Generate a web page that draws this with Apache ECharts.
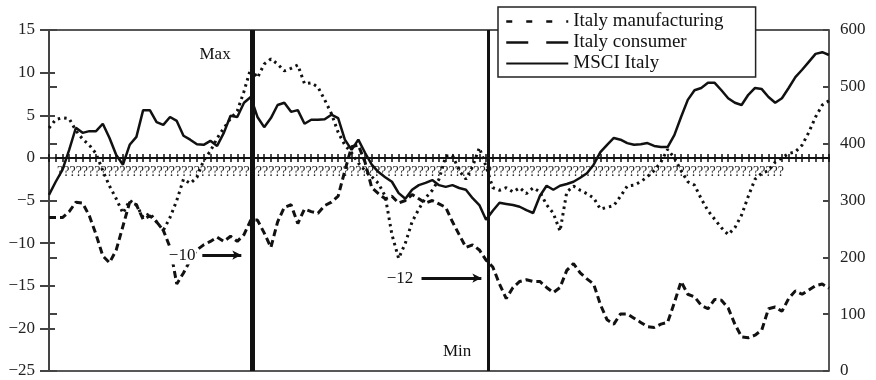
<!DOCTYPE html>
<html>
<head>
<meta charset="utf-8">
<script src="https://cdn.jsdelivr.net/npm/echarts@6/dist/echarts.min.js"></script>
<style>
html,body{margin:0;padding:0;background:#fff;}
#chart{width:876px;height:380px;}
</style>
</head>
<body>
<div id="chart"></div>
<script>
// Italy manufacturing confidence (left axis)
const manufacturing = [
  3.5,4.5,4.7,4.6,3.2,2.2,1.5,0.5,-1.5,-3.3,
  -4.8,-6.5,-5,-5.5,-7,-6.5,-7.5,-8.5,-7,-5,
  -2.5,-3,-2.3,-0.3,0.8,2.3,3.5,4.6,5.5,7.8,
  10.5,9.4,11,11.6,11,10.2,10.5,10.9,8.7,8.8,
  8.3,6.8,5.2,3,1.5,0.6,-0.6,-1.5,-2.2,-3,
  -4.5,-9,-11.8,-10,-7.5,-6,-4.7,-3.8,-2.5,0.2,
  0.3,-1.5,-2.5,-1,1.2,-1,-3.5,-3.8,-3.5,-4,
  -3.5,-4.2,-3.5,-4,-5.5,-6.5,-8.6,-4,-3.3,-3.8,
  -4.2,-4.7,-6,-5.8,-5.6,-4.5,-3.3,-3.2,-2.8,-2.2,
  -1.5,-0.5,1,0,-1.5,-2.8,-3.2,-4.8,-6.2,-7.2,
  -8.2,-9,-8.2,-6.7,-4.5,-2.5,-1.8,-1.5,-0.5,0,
  0.5,0.7,1.5,3,4.8,6.2,6.7
];
// Italy consumer confidence (left axis)
const consumer = [
  -7,-7,-7,-6.3,-5.2,-5.3,-6.8,-9,-11.5,-12.3,
  -10.8,-8,-5.2,-5.5,-7.2,-6.8,-7.5,-8.5,-10.5,-14.8,
  -13.5,-12,-10.8,-10.2,-9.8,-9.3,-9.8,-9.2,-9.8,-9,
  -7.3,-7.3,-8.8,-10.5,-7.5,-5.8,-5.5,-7.7,-6,-6.3,
  -6.5,-5.6,-5.2,-4.5,-1.5,1.3,1.5,-0.5,-3.5,-4.2,
  -4.8,-4.5,-5.3,-5,-4.3,-4.8,-5.3,-5,-5.4,-5.8,
  -7.5,-9,-10.5,-10.2,-10.8,-12,-12.8,-14.8,-16.5,-15.2,
  -14.5,-14.3,-14.5,-14.5,-15.2,-15.8,-15.2,-13.2,-12.4,-13.5,
  -14.2,-14.8,-17.2,-19,-19.5,-18.3,-18.3,-18.8,-19.3,-19.8,
  -19.9,-19.5,-19.3,-17,-14.5,-16,-16.3,-17.3,-17.7,-16.6,
  -16.7,-17.6,-19.5,-21,-21.1,-20.8,-20.2,-17.7,-17.5,-18,
  -16.5,-15.6,-16,-15.5,-15,-14.8,-15.3
];
// MSCI Italy index (right axis)
const msci = [
  310,333,354,389,428,419,422,422,435,410,
  380,363,398,412,459,459,438,433,447,440,
  414,407,399,398,405,396,419,449,447,472,
  482,447,429,445,468,472,456,459,435,442,
  442,443,451,445,407,389,407,384,363,350,
  341,333,313,303,319,327,331,336,327,324,
  327,322,319,304,292,266,282,296,294,292,
  289,283,278,308,326,319,326,329,333,340,
  348,363,385,398,410,407,401,398,399,401,
  396,394,394,415,447,477,494,498,507,507,
  494,480,472,468,486,498,496,482,472,480,
  498,517,530,544,558,561,556
];
const seriesNames = ['Italy manufacturing', 'Italy consumer', 'MSCI Italy'];
// garbled date labels as they appear in the source
const dateLabels = ['?????????????????????????????????????????????????????????????????????????????????????????????????????????????????????'];
const leftTicks = {min: -25, max: 15, interval: 5};
const rightTicks = {min: 0, max: 600, interval: 100};
// vertical reference lines (x index) and annotations (data coords)
const extremeLines = [{name: 'Max', x: 30.2, width: 5}, {name: 'Min', x: 65.3, width: 3}];
const annotationTexts = [
  {text: 'Max', coord: [24.7, 12.1], bg: false},
  {text: 'Min', coord: [60.7, -22.7], bg: false},
  {text: '\u221210', coord: [19.8, -11.5], bg: true},
  {text: '\u221212', coord: [52.2, -14.1], bg: true}
];
const arrows = [
  [[22.8, -11.4], [28.6, -11.4]],
  [[55.4, -14.1], [64.3, -14.1]]
];

const FONT = "'Liberation Serif', 'DejaVu Serif', serif";
const INK = '#111';
const pairs = arr => arr.map((v, i) => [i, v]);
const n = msci.length - 1;
const minusFmt = v => String(v).replace('-', '\u2212');
const hiddenSymbol = {opacity: 0, color: 'rgba(0,0,0,0)', borderWidth: 0};

const chart = echarts.init(document.getElementById('chart'), null, {renderer: 'canvas'});
chart.setOption({
  animation: false,
  backgroundColor: '#fff',
  grid: {left: 49, right: 47, top: 30, bottom: 9, show: true, borderColor: '#222', borderWidth: 1.5, backgroundColor: 'transparent'},
  legend: {
    orient: 'vertical', left: 498, top: 7,
    padding: [5, 32, 4, 7],
    backgroundColor: '#fff', borderColor: '#222', borderWidth: 1.5, borderRadius: 0,
    itemWidth: 62, itemHeight: 14, itemGap: 2,
    textStyle: {fontFamily: FONT, fontSize: 19, color: '#111'},
    data: [
      {name: seriesNames[0], itemStyle: hiddenSymbol, lineStyle: {type: [6, 14], width: 2.5, color: INK}},
      {name: seriesNames[1], itemStyle: hiddenSymbol, lineStyle: {type: [22, 18], width: 2.5, color: INK}},
      {name: seriesNames[2], itemStyle: hiddenSymbol, lineStyle: {type: 'solid', width: 2, color: INK}}
    ]
  },
  graphic: [{
    type: 'text', left: 57, top: 165, z: 1,
    style: {text: dateLabels.join(''), fontFamily: FONT, fontSize: 14, fill: '#222'}
  }],
  xAxis: [
    {type: 'value', min: 0, max: n, interval: 1,
     axisLine: {show: true, onZero: true, onZeroAxisIndex: 0, lineStyle: {color: INK, width: 2}},
     axisTick: {show: true, length: 4, lineStyle: {color: INK, width: 1.5}},
     axisLabel: {show: false}, splitLine: {show: false}},
    {type: 'value', min: 0, max: n, interval: 1, position: 'bottom',
     axisLine: {show: true, onZero: true, onZeroAxisIndex: 0, lineStyle: {color: INK, width: 2}},
     axisTick: {show: true, inside: true, length: 4, lineStyle: {color: INK, width: 1.5}},
     axisLabel: {show: false}, splitLine: {show: false}}
  ],
  yAxis: [
    {type: 'value', position: 'left', ...leftTicks,
     axisLine: {show: true, lineStyle: {color: '#444', width: 2}},
     axisTick: {show: true, length: 9, lineStyle: {color: '#444', width: 2}},
     axisLabel: {margin: 14, fontSize: 17, color: '#222', fontFamily: FONT, formatter: minusFmt},
     splitLine: {show: false}},
    {type: 'value', position: 'right', ...rightTicks,
     axisLine: {show: true, lineStyle: {color: '#444', width: 2}},
     axisTick: {show: true, length: 8, lineStyle: {color: '#444', width: 2}},
     axisLabel: {margin: 11, fontSize: 17, color: '#222', fontFamily: FONT},
     splitLine: {show: false}},
    {type: 'value', position: 'left', ...leftTicks,
     axisLine: {show: false},
     axisTick: {show: true, inside: true, length: 6, lineStyle: {color: '#444', width: 2}},
     axisLabel: {show: false}, splitLine: {show: false}},
    {type: 'value', position: 'right', ...rightTicks,
     axisLine: {show: false},
     axisTick: {show: true, inside: true, length: 6, lineStyle: {color: '#444', width: 2}},
     axisLabel: {show: false}, splitLine: {show: false}}
  ],
  series: [
    {name: seriesNames[0], type: 'line', yAxisIndex: 0, data: pairs(manufacturing), symbol: 'none',
     lineStyle: {color: INK, width: 3, type: [2.5, 4], cap: 'butt'}, itemStyle: {color: INK}, z: 3,
     markLine: {
       silent: true, symbol: ['none', 'none'], animation: false,
       label: {show: false},
       data: extremeLines.map(l => ({name: l.name, xAxis: l.x, lineStyle: {color: INK, width: l.width, type: 'solid'}}))
     },
     markPoint: {
       silent: true, symbol: 'circle', symbolSize: 1, itemStyle: {color: 'rgba(0,0,0,0)'},
       data: annotationTexts.map(a => ({coord: a.coord, value: a.text,
         label: {show: true, position: 'inside', formatter: a.text, fontFamily: FONT, fontSize: 17, color: '#111',
                 backgroundColor: a.bg ? '#fff' : 'transparent', padding: [0, 1]}}))
     }
    },
    {name: seriesNames[1], type: 'line', yAxisIndex: 0, data: pairs(consumer), symbol: 'none',
     lineStyle: {color: INK, width: 3, type: [7, 4], cap: 'butt'}, itemStyle: {color: INK}, z: 3,
     markLine: {
       silent: true, symbol: ['none', 'arrow'], symbolSize: [7, 9], animation: false,
       label: {show: false},
       lineStyle: {color: INK, width: 3, type: 'solid'},
       data: arrows.map(a => [{coord: a[0]}, {coord: a[1]}])
     }
    },
    {name: seriesNames[2], type: 'line', yAxisIndex: 1, data: pairs(msci), symbol: 'none',
     lineStyle: {color: INK, width: 2.5, type: 'solid'}, itemStyle: {color: INK}, z: 3}
  ]
});
</script>
</body>
</html>
